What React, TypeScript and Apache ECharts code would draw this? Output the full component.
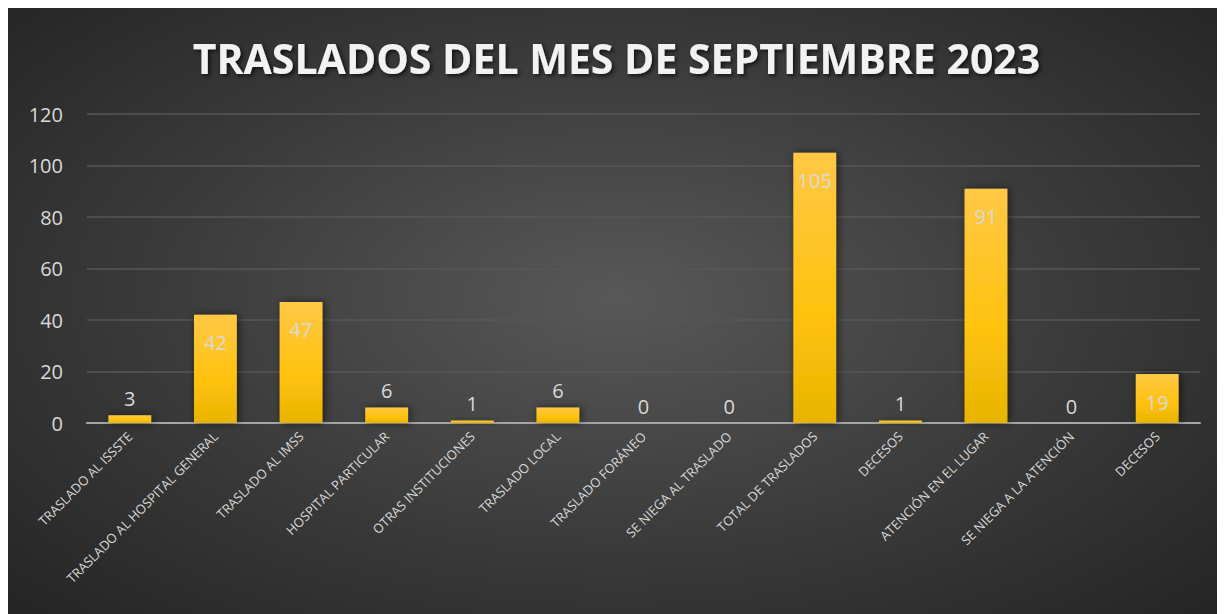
import React, { useEffect, useRef } from "react";
import * as echarts from "echarts";

const categories = [
  "TRASLADO AL ISSSTE",
  "TRASLADO AL HOSPITAL GENERAL",
  "TRASLADO AL IMSS",
  "HOSPITAL PARTICULAR",
  "OTRAS INSTITUCIONES",
  "TRASLADO LOCAL",
  "TRASLADO FORÁNEO",
  "SE NIEGA AL TRASLADO",
  "TOTAL DE TRASLADOS",
  "DECESOS",
  "ATENCIÓN EN EL LUGAR",
  "SE NIEGA A LA ATENCIÓN",
  "DECESOS",
];
const values = [3, 42, 47, 6, 1, 6, 0, 0, 105, 1, 91, 0, 19];
const titleText = "TRASLADOS DEL MES DE SEPTIEMBRE 2023";

export default function App() {
  const ref = useRef<HTMLDivElement>(null);
  useEffect(() => {
    if (!ref.current) return;
    const chart = echarts.init(ref.current, null, { renderer: "svg" });
    const barColor = new echarts.graphic.LinearGradient(0, 0, 0, 1, [
      { offset: 0, color: "#FFC845" },
      { offset: 0.6, color: "#FFC20E" },
      { offset: 1, color: "#E8B400" },
    ]);
    chart.setOption({
      animation: false,
      title: {
        text: titleText,
        left: "center",
        top: 24,
        textStyle: {
          fontFamily: "Open Sans",
          fontWeight: "bold",
          fontSize: 41,
          color: "#F2F2F2",
          textShadowColor: "rgba(0,0,0,0.7)",
          textShadowBlur: 4,
          textShadowOffsetX: 2,
          textShadowOffsetY: 2,
        },
      },
      grid: { left: 79, right: 25, top: 106, bottom: 191, containLabel: false },
      xAxis: {
        type: "category",
        data: categories,
        axisTick: { show: false },
        axisLine: { lineStyle: { color: "#A6A6A6", width: 2 } },
        axisLabel: {
          rotate: 45,
          interval: 0,
          margin: 11,
          fontSize: 13,
          color: "#D9D9D9",
          fontFamily: "Open Sans",
        },
      },
      yAxis: {
        type: "value",
        min: 0,
        max: 120,
        interval: 20,
        axisLine: { show: false },
        axisTick: { show: false },
        splitLine: { lineStyle: { color: "#575757", width: 1.5 } },
        axisLabel: {
          margin: 24,
          fontSize: 20,
          color: "#D9D9D9",
          fontFamily: "Open Sans",
        },
      },
      series: [
        {
          type: "bar",
          barWidth: "50%",
          data: values.map((v) => ({
            value: v,
            label: {
              position: v >= 19 ? "insideTop" : "top",
              distance: v >= 19 ? 18 : 7,
            },
          })),
          itemStyle: {
            color: barColor,
            shadowBlur: 8,
            shadowColor: "rgba(0,0,0,0.55)",
            shadowOffsetX: 2,
            shadowOffsetY: 0,
          },
          label: {
            show: true,
            fontSize: 20,
            color: "#D9D9D9",
            fontFamily: "Open Sans",
          },
        },
      ],
    });
    return () => chart.dispose();
  }, []);
  return (
    <div
      ref={ref}
      style={{
        width: 1217,
        height: 606,
        background:
          "radial-gradient(ellipse 70% 75% at 50% 48%, #585858 0%, #3a3a3a 55%, #242424 100%)",
      }}
    />
  );
}
